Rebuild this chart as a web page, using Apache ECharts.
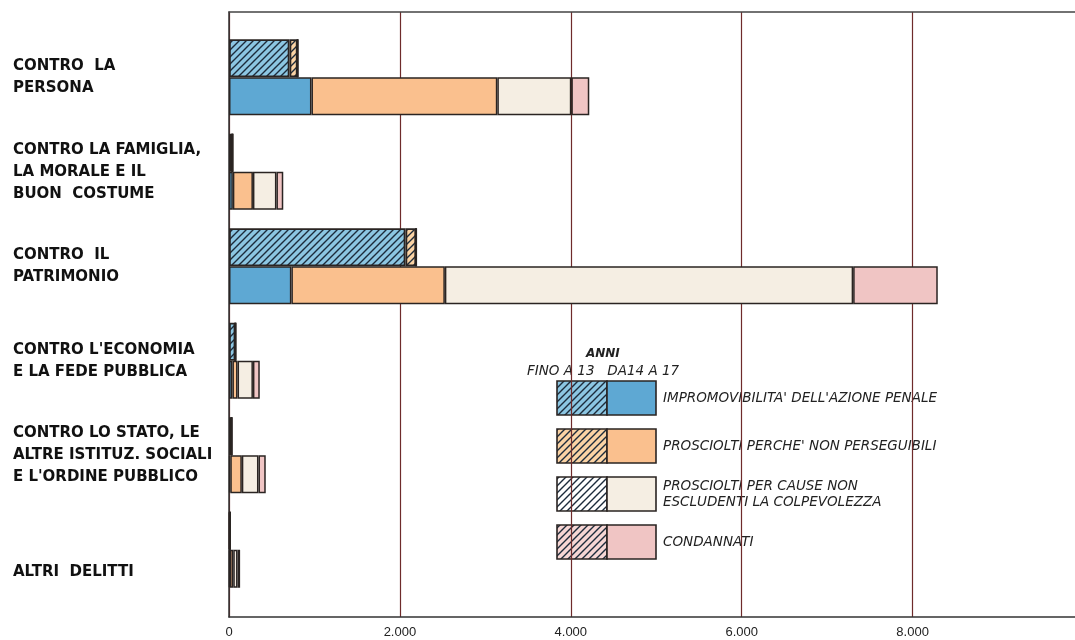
<!DOCTYPE html>
<html>
<head>
<meta charset="utf-8">
<script src="https://cdn.jsdelivr.net/npm/echarts@6/dist/echarts.min.js"></script>
<style>
  html, body { margin: 0; padding: 0; background: #fff; }
  #chart { width: 1075px; height: 640px; }
</style>
</head>
<body>
<div id="chart"></div>
<script>
// categorie di delitto (dall'alto in basso)
const categories = [
  'CONTRO  LA\nPERSONA',
  'CONTRO LA FAMIGLIA,\nLA MORALE E IL\nBUON  COSTUME',
  'CONTRO  IL\nPATRIMONIO',
  "CONTRO L'ECONOMIA\nE LA FEDE PUBBLICA",
  'CONTRO LO STATO, LE\nALTRE ISTITUZ. SOCIALI\nE L\'ORDINE PUBBLICO',
  'ALTRI  DELITTI'
]

// fino a 13 anni (barre tratteggiate)
const young_impromovibilita = [708, 40, 2065, 75, 30, 10]
const young_non_perseguibili = [95, 0, 125, 0, 0, 0]
const young_non_escludenti = [0, 0, 0, 0, 0, 0]
const young_condannati = [0, 0, 0, 0, 0, 0]

// da 14 a 17 anni (barre piene)
const old_impromovibilita = [965, 45, 730, 40, 15, 10]
const old_non_perseguibili = [2175, 235, 1796, 60, 135, 40]
const old_non_escludenti = [866, 275, 4778, 180, 195, 50]
const old_condannati = [210, 80, 990, 80, 85, 30]

const xTicks = [0, 2000, 4000, 6000, 8000]

const legendNames = [
  "IMPROMOVIBILITA' DELL'AZIONE PENALE",
  "PROSCIOLTI PERCHE' NON PERSEGUIBILI",
  'PROSCIOLTI PER CAUSE NON\nESCLUDENTI LA COLPEVOLEZZA',
  'CONDANNATI'
]

const solidColors = ['#5ea8d3', '#fac08e', '#f5eee3', '#f0c5c4']
const hatchBg = ['#8cc6e2', '#fbd3a4', '#ffffff', '#f6d6d4']
const lineDark = '#2a2422'

// tratteggio diagonale
function hatch(bg) {
  const c = document.createElement('canvas')
  c.width = 7
  c.height = 7
  const ctx = c.getContext('2d')
  ctx.fillStyle = bg
  ctx.fillRect(0, 0, 7, 7)
  ctx.strokeStyle = '#1c2b3b'
  ctx.lineWidth = 1.4
  ctx.beginPath()
  ctx.moveTo(-1, 8); ctx.lineTo(8, -1)
  ctx.moveTo(-1, 1); ctx.lineTo(1, -1)
  ctx.moveTo(6, 8); ctx.lineTo(8, 6)
  ctx.stroke()
  return { image: c, repeat: 'repeat' }
}

const chartInstance = echarts.init(document.getElementById('chart'), null, { renderer: 'canvas' })

const youngData = [young_impromovibilita, young_non_perseguibili, young_non_escludenti, young_condannati]
const oldData = [old_impromovibilita, old_non_perseguibili, old_non_escludenti, old_condannati]

const series = []
youngData.forEach((d, i) => {
  series.push({
    type: 'bar',
    name: 'y' + i,
    stack: 'young',
    xAxisIndex: 2,
    yAxisIndex: 1,
    barWidth: 38,
    barGap: '0%',
    data: d,
    itemStyle: { color: hatch(hatchBg[i]), borderColor: lineDark, borderWidth: 1.8 }
  })
})
oldData.forEach((d, i) => {
  series.push({
    type: 'bar',
    name: 'o' + i,
    stack: 'old',
    xAxisIndex: 2,
    yAxisIndex: 1,
    barWidth: 38,
    barGap: '0%',
    data: d,
    itemStyle: { color: solidColors[i], borderColor: lineDark, borderWidth: 1.5 }
  })
})

// legenda disegnata a mano
const legendGraphic = []
const boxTops = [381, 429, 477, 525]
legendGraphic.push({
  type: 'text', left: 586, top: 348,
  style: { text: 'ANNI', font: 'italic bold 12px "DejaVu Sans"', fill: '#222' }
})
legendGraphic.push({
  type: 'text', left: 527, top: 364,
  style: { text: 'FINO A 13   DA14 A 17', font: 'italic 13.5px "DejaVu Sans"', fill: '#222' }
})
legendNames.forEach((name, i) => {
  legendGraphic.push({
    type: 'rect', shape: { x: 557, y: boxTops[i], width: 50, height: 34 },
    style: { fill: hatch(hatchBg[i]), stroke: lineDark, lineWidth: 1.6 }
  })
  legendGraphic.push({
    type: 'rect', shape: { x: 607, y: boxTops[i], width: 49, height: 34 },
    style: { fill: solidColors[i], stroke: lineDark, lineWidth: 1.6 }
  })
  legendGraphic.push({
    type: 'text', x: 663, y: boxTops[i] + 17,
    style: {
      text: name, font: 'italic 13.5px "DejaVu Sans"', fill: '#222',
      verticalAlign: 'middle', lineHeight: 16
    }
  })
})

const option = {
  animation: false,
  grid: [
    { left: 229, right: 0, top: 12, bottom: 23, outerBoundsMode: 'none' },
    { left: 229, right: 0, top: 30, bottom: 43, outerBoundsMode: 'none' }
  ],
  xAxis: [
    {
      gridIndex: 0, type: 'value', min: 0, max: 9900, interval: 2000,
      axisLine: { show: true, lineStyle: { color: '#333', width: 1.5 } },
      axisTick: { show: false },
      splitLine: { show: true, showMaxLine: false, lineStyle: { color: '#6e2b2b', width: 1.2 } },
      axisLabel: {
        margin: 9, color: '#222', fontSize: 13, fontFamily: 'Liberation Sans',
        formatter: v => xTicks.indexOf(v) < 0 ? '' : String(v).replace(/\B(?=(\d{3})+(?!\d))/g, '.')
      }
    },
    {
      gridIndex: 0, type: 'value', position: 'top', min: 0, max: 9900,
      axisLine: { show: true, onZero: false, lineStyle: { color: '#444', width: 1.5 } },
      axisTick: { show: false }, axisLabel: { show: false }, splitLine: { show: false }
    },
    {
      gridIndex: 1, type: 'value', min: 0, max: 9900,
      axisLine: { show: false }, axisTick: { show: false },
      axisLabel: { show: false }, splitLine: { show: false }
    }
  ],
  yAxis: [
    {
      gridIndex: 0, type: 'value', min: 0, max: 1,
      axisLine: { show: true, lineStyle: { color: '#333', width: 1.5 } },
      axisTick: { show: false }, axisLabel: { show: false }, splitLine: { show: false }
    },
    {
      gridIndex: 1, type: 'category', inverse: true,
      data: categories,
      axisLine: { show: false }, axisTick: { show: false }, splitLine: { show: false },
      axisLabel: {
        align: 'left', margin: 216, color: '#111', fontSize: 15,
        fontFamily: 'DejaVu Sans', fontWeight: 'bold', lineHeight: 22,
        // l'ultima etichetta sta più in basso nell'originale
        formatter: (v, i) => i === categories.length - 1 ? '\n\n' + v : v
      }
    }
  ],
  graphic: legendGraphic,
  series: series
}

chartInstance.setOption(option)
</script>
</body>
</html>
